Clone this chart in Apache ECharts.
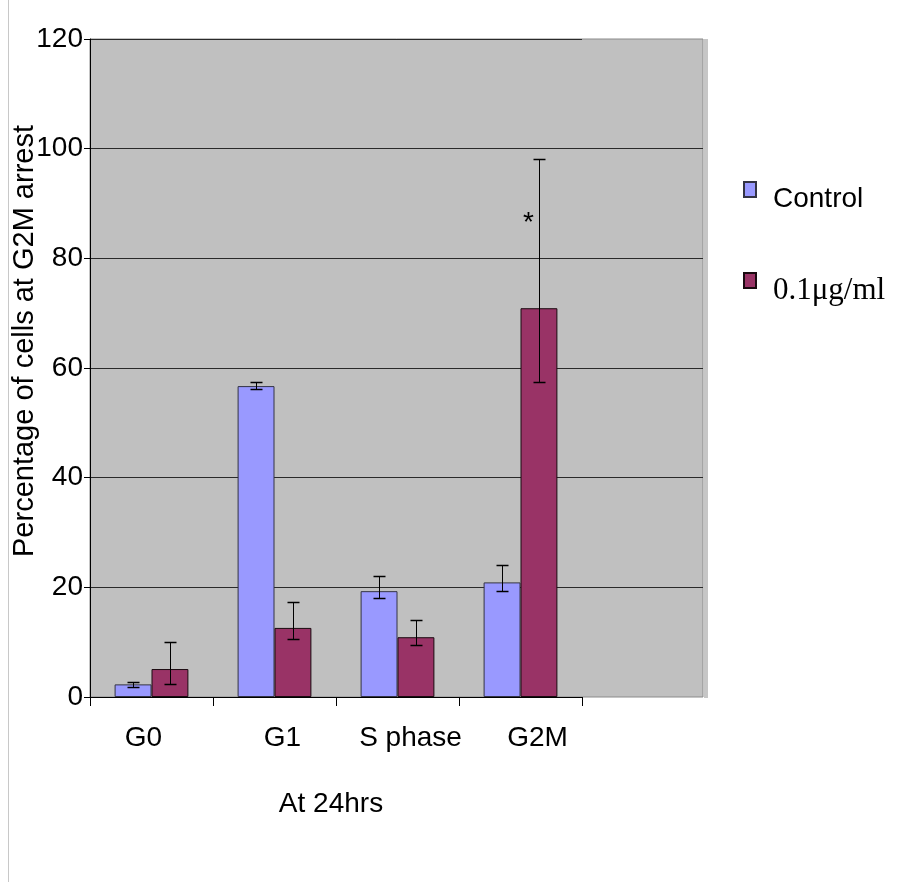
<!DOCTYPE html>
<html>
<head>
<meta charset="utf-8">
<script src="https://cdn.jsdelivr.net/npm/echarts@6/dist/echarts.min.js"></script>
<style>
  html, body { margin: 0; padding: 0; background: #ffffff; }
  #chart { width: 911px; height: 882px; }
</style>
</head>
<body>
<div id="chart"></div>
<script>
// Cell-cycle phase distribution at 24 h (percent of cells), mean with error range
const categories = ['G0', 'G1', 'S phase', 'G2M'];
const seriesNames = ['Control', '0.1\u03bcg/ml'];

const controlValues = [2.3, 56.7, 19.3, 20.9];
const controlLow    = [1.8, 56.2, 18.1, 19.3];
const controlHigh   = [2.7, 57.4, 22.1, 24.1];

const treatedValues = [5.1, 12.6, 10.9, 70.9];
const treatedLow    = [2.3, 10.6, 9.4, 57.5];
const treatedHigh   = [10.1, 17.3, 14.1, 98.2];

// significance marker for the treated group, and the level it is written at
const significance = ['', '', '', '*'];
const significanceLevel = 87.5;

const yMin = 0, yMax = 120, yStep = 20;

const SANS = '"Liberation Sans", Arial, sans-serif';
const SERIF = '"Liberation Serif", "Times New Roman", serif';

// per-label horizontal nudge of the category labels (px)
const labelShift = [-8, 8, 13, 17];
const rich = {};
labelShift.forEach((d, i) => {
  rich['c' + i] = {
    fontFamily: SANS, fontSize: 28, color: '#000',
    padding: d >= 0 ? [0, 0, 0, 2 * d] : [0, -2 * d, 0, 0]
  };
});

const errorData = [];
categories.forEach((c, i) => {
  errorData.push([i, controlLow[i], controlHigh[i], 0]);
  errorData.push([i, treatedLow[i], treatedHigh[i], 1]);
});

function renderErrorBar(params, api) {
  const idx = api.value(0);
  const lo = api.value(1);
  const hi = api.value(2);
  const s = api.value(3);
  const band = api.size([1, 0])[0];
  const cx = Math.round(api.coord([idx, 0])[0] + (s === 0 ? -1 : 1) * band * 0.15) + 0.5;
  const yTop = Math.round(api.coord([idx, hi])[1]) + 0.5;
  const yBot = Math.round(api.coord([idx, lo])[1]) + 0.5;
  const half = 6;
  const children = [
    { type: 'line', shape: { x1: cx, y1: yTop, x2: cx, y2: yBot }, style: { stroke: '#000', lineWidth: 1 } },
    { type: 'line', shape: { x1: cx - half, y1: yTop, x2: cx + half, y2: yTop }, style: { stroke: '#000', lineWidth: 1.5 } },
    { type: 'line', shape: { x1: cx - half, y1: yBot, x2: cx + half, y2: yBot }, style: { stroke: '#000', lineWidth: 1.5 } }
  ];
  if (s === 1 && significance[idx]) {
    const ys = api.coord([idx, significanceLevel])[1];
    children.push({
      type: 'text',
      style: {
        text: significance[idx], x: cx - 11, y: ys + 6,
        font: '28px ' + SANS, fill: '#000',
        align: 'center', verticalAlign: 'middle',
        textAlign: 'center', textVerticalAlign: 'middle'
      }
    });
  }
  return { type: 'group', children };
}

// legend text sits a little below its swatch: an empty spacer line above the name
function legendText(family, size) {
  return {
    color: '#000',
    rich: {
      g: { fontSize: 1, lineHeight: 20 },
      t: { fontFamily: family, fontSize: size, lineHeight: 30, color: '#000', padding: [0, 0, 0, 12] }
    }
  };
}

const chart = echarts.init(document.getElementById('chart'), null, { renderer: 'canvas' });

const gridTop = 39, gridBottom = 882 - 697;

chart.setOption({
  animation: false,
  backgroundColor: '#ffffff',
  grid: [
    { left: 90, top: gridTop, width: 613, bottom: gridBottom, show: true,
      backgroundColor: '#C0C0C0', borderColor: '#8a8a8a', borderWidth: 1 },
    { left: 90, top: gridTop, width: 492, bottom: gridBottom }
  ],
  xAxis: [
    { gridIndex: 0, type: 'value', min: 0, max: 1, show: false },
    {
      gridIndex: 1, type: 'category', data: categories,
      axisLine: { show: true, lineStyle: { color: '#000', width: 1 } },
      axisTick: { show: true, length: 9, inside: false, lineStyle: { color: '#000' } },
      axisLabel: {
        margin: 27,
        formatter: (v, i) => '{c' + i + '|' + v + '}',
        rich: rich
      },
      name: 'At 24hrs', nameLocation: 'middle', nameGap: 93,
      nameTextStyle: { fontFamily: SANS, fontSize: 28, color: '#000', padding: [0, 10, 0, 0] }
    }
  ],
  yAxis: [
    {
      gridIndex: 0, type: 'value', min: yMin, max: yMax, interval: yStep,
      axisLine: { show: true, lineStyle: { color: '#000', width: 1 } },
      axisTick: { show: true, length: 6, lineStyle: { color: '#000' } },
      axisLabel: { margin: 7, fontFamily: SANS, fontSize: 28, color: '#000' },
      splitLine: { show: true, showMinLine: false, showMaxLine: false, lineStyle: { color: '#2a2a2a', width: 1 } }
    },
    {
      gridIndex: 1, type: 'value', min: yMin, max: yMax, interval: yStep,
      axisLine: { show: false }, axisTick: { show: false }, axisLabel: { show: false },
      splitLine: { show: true, showMinLine: false, lineStyle: { color: '#2a2a2a', width: 1 } }
    }
  ],
  legend: [
    {
      data: [seriesNames[0]], formatter: '{g| }\n{t|{name}}',
      textStyle: legendText(SANS, 28),
      left: 743, top: 174, padding: 0, itemWidth: 12, itemHeight: 15, selectedMode: false, icon: 'rect'
    },
    {
      data: [seriesNames[1]], formatter: '{g| }\n{t|{name}}',
      textStyle: legendText(SERIF, 31),
      left: 743, top: 265, padding: 0, itemWidth: 12, itemHeight: 15, selectedMode: false, icon: 'rect'
    }
  ],
  graphic: [
    { type: 'line', shape: { x1: 8.5, y1: 0, x2: 8.5, y2: 882 }, style: { stroke: '#c8c8c8', lineWidth: 1 }, silent: true },
    { type: 'rect', shape: { x: 704, y: 39, width: 4, height: 659 }, style: { fill: '#c6c6c6' }, silent: true },
    {
      type: 'text', x: 25, y: 341, rotation: Math.PI / 2, silent: true,
      style: {
        text: 'Percentage of cells at G2M arrest', font: '29px ' + SANS, fill: '#000',
        align: 'center', verticalAlign: 'middle', textAlign: 'center', textVerticalAlign: 'middle'
      }
    }
  ],
  series: [
    {
      name: seriesNames[0], type: 'bar', xAxisIndex: 1, yAxisIndex: 1,
      data: controlValues, barGap: '0%', barCategoryGap: '40%',
      itemStyle: { color: '#9999FF', borderColor: '#333344', borderWidth: 1 }
    },
    {
      name: seriesNames[1], type: 'bar', xAxisIndex: 1, yAxisIndex: 1,
      data: treatedValues, barGap: '0%', barCategoryGap: '40%',
      itemStyle: { color: '#993366', borderColor: '#1a0a10', borderWidth: 1 }
    },
    {
      name: 'error', type: 'custom', xAxisIndex: 1, yAxisIndex: 1,
      data: errorData, encode: { x: 0, y: [1, 2] },
      renderItem: renderErrorBar, z: 5, silent: true
    }
  ]
});
</script>
</body>
</html>
